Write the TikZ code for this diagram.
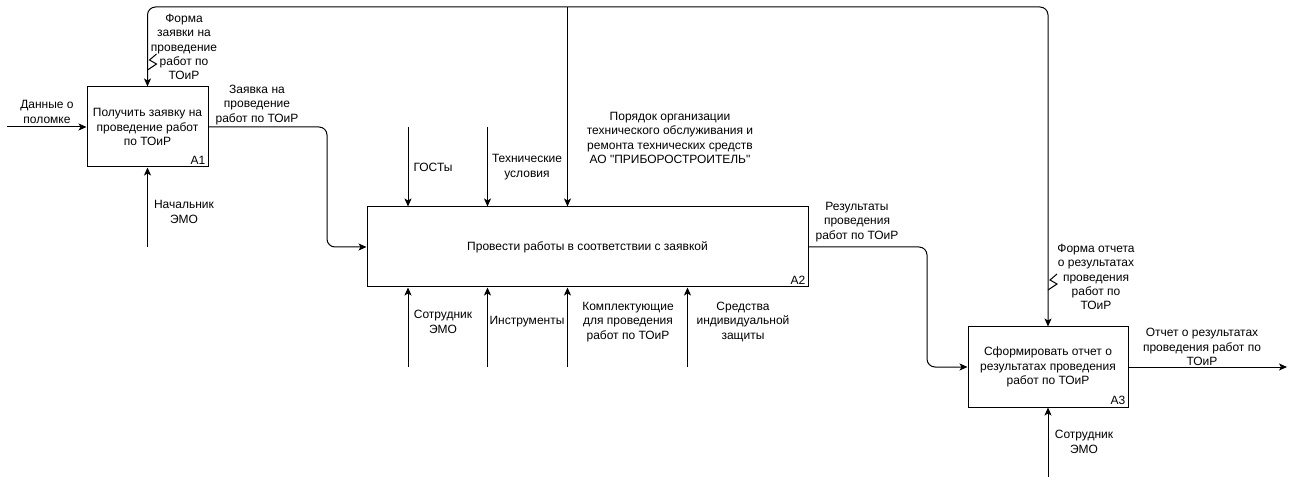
\documentclass[tikz,border=0pt]{standalone}
\usepackage{fontspec}
\setmainfont{Liberation Sans}[Ligatures=TeXOff]
\usetikzlibrary{arrows.meta,calc}
\def\zigzag(#1){\draw[line width=1pt, shift={(#1)}] (9,-7) -- (2,-1) -- (9,3) -- (0,9);}

\begin{document}
\begin{tikzpicture}[x=1pt, y=-1pt,
	font=\fontsize{12}{14.4}\selectfont,
	fbox/.style={draw, line width=1pt, minimum height=80pt, inner sep=0pt, align=center},
	arr/.style={line width=1pt, -{Stealth[length=8pt,width=7pt,inset=2pt]}},
	lbl/.style={align=center, inner sep=0pt},
	numb/.style={anchor=south east, inner sep=3pt}]
			%%%%% START %%%%%
			\useasboundingbox (0,0) rectangle (1296,486);
			
			%% boxes
			\node[fbox, minimum width=121pt] (A1) at (147.5,127) {Получить заявку на\\проведение работ\\по ТОиР};
			\node[numb] at (A1.south east) {A1};
			\node[fbox, minimum width=441pt] (A2) at (587.5,247) {Провести работы в соответствии с заявкой};
			\node[numb] at (A2.south east) {A2};
			\node[fbox, minimum width=160pt] (A3) at (1048,367) {Сформировать отчет о\\результатах проведения\\работ по ТОиР};
			\node[numb] at (A3.south east) {A3};
			
			%% free ends
			\coordinate (inA1) at (7,127);
			\coordinate (mA1) at (147.5,247);
			\coordinate (src) at (567.5,7);
			\coordinate (cGost) at (408,127);
			\coordinate (cTu) at (487.5,127);
			\coordinate (mSotr) at (408,367);
			\coordinate (mInstr) at (487.5,367);
			\coordinate (mKompl) at (567.5,367);
			\coordinate (mSiz) at (687.5,367);
			\coordinate (bendA) at (327,247);
			\coordinate (bendB) at (927,367);
			\coordinate (outA3) at (1287,367);
			\coordinate (mA3) at (1048,477);
			
			%% A1
			\draw[arr] (inA1) -- (A1.west);
			\draw[arr] (mA1) -- (A1.south);
			\draw[arr, rounded corners=8pt] (src) -| (A1.north);
			\draw[arr, rounded corners=8pt] (A1.east) -| (bendA) -- (A2.west);
			\zigzag(147.5,61);
			
			%% A2
			\draw[arr] (src) -- (src |- A2.north);
			\draw[arr] (cGost) -- (cGost |- A2.north);
			\draw[arr] (cTu) -- (cTu |- A2.north);
			\draw[arr] (mSotr) -- (mSotr |- A2.south);
			\draw[arr] (mInstr) -- (mInstr |- A2.south);
			\draw[arr] (mKompl) -- (mKompl |- A2.south);
			\draw[arr] (mSiz) -- (mSiz |- A2.south);
			\draw[arr, rounded corners=8pt] (A2.east) -| (bendB) -- (A3.west);
			
			%% A3
			\draw[arr, rounded corners=8pt] (src) -| (A3.north);
			\draw[arr] (mA3) -- (A3.south);
			\draw[arr] (A3.east) -- (outA3);
			\zigzag(1048,281);
			
			%% labels
			\node[lbl] at (47,112) {Данные о\\поломке};
			\node[lbl] at (184,47) {Форма\\заявки на\\проведение\\работ по\\ТОиР};
			\node[lbl] at (184,212) {Начальник\\ЭМО};
			\node[lbl] at (257,105) {Заявка на\\проведение\\работ по ТОиР};
			\node[lbl] at (433,167) {ГОСТы};
			\node[lbl] at (527,167) {Технические\\условия};
			\node[lbl] at (670,138) {Порядок организации\\технического обслуживания и\\ремонта технических средств\\АО "ПРИБОРОСТРОИТЕЛЬ"};
			\node[lbl] at (443,322) {Сотрудник\\ЭМО};
			\node[lbl] at (527,322) {Инструменты};
			\node[lbl] at (628,322) {Комплектующие\\для проведения\\работ по ТОиР};
			\node[lbl] at (743,322) {Средства\\индивидуальной\\защиты};
			\node[lbl] at (857,222) {Результаты\\проведения\\работ по ТОиР};
			\node[lbl] at (1096,277) {Форма отчета\\о результатах\\проведения\\работ по\\ТОиР};
			\node[lbl] at (1202,347) {Отчет о результатах\\проведения работ по\\ТОиР};
			\node[lbl] at (1084,442) {Сотрудник\\ЭМО};
			
			%%%%% END %%%%%
\end{tikzpicture}
\end{document}
